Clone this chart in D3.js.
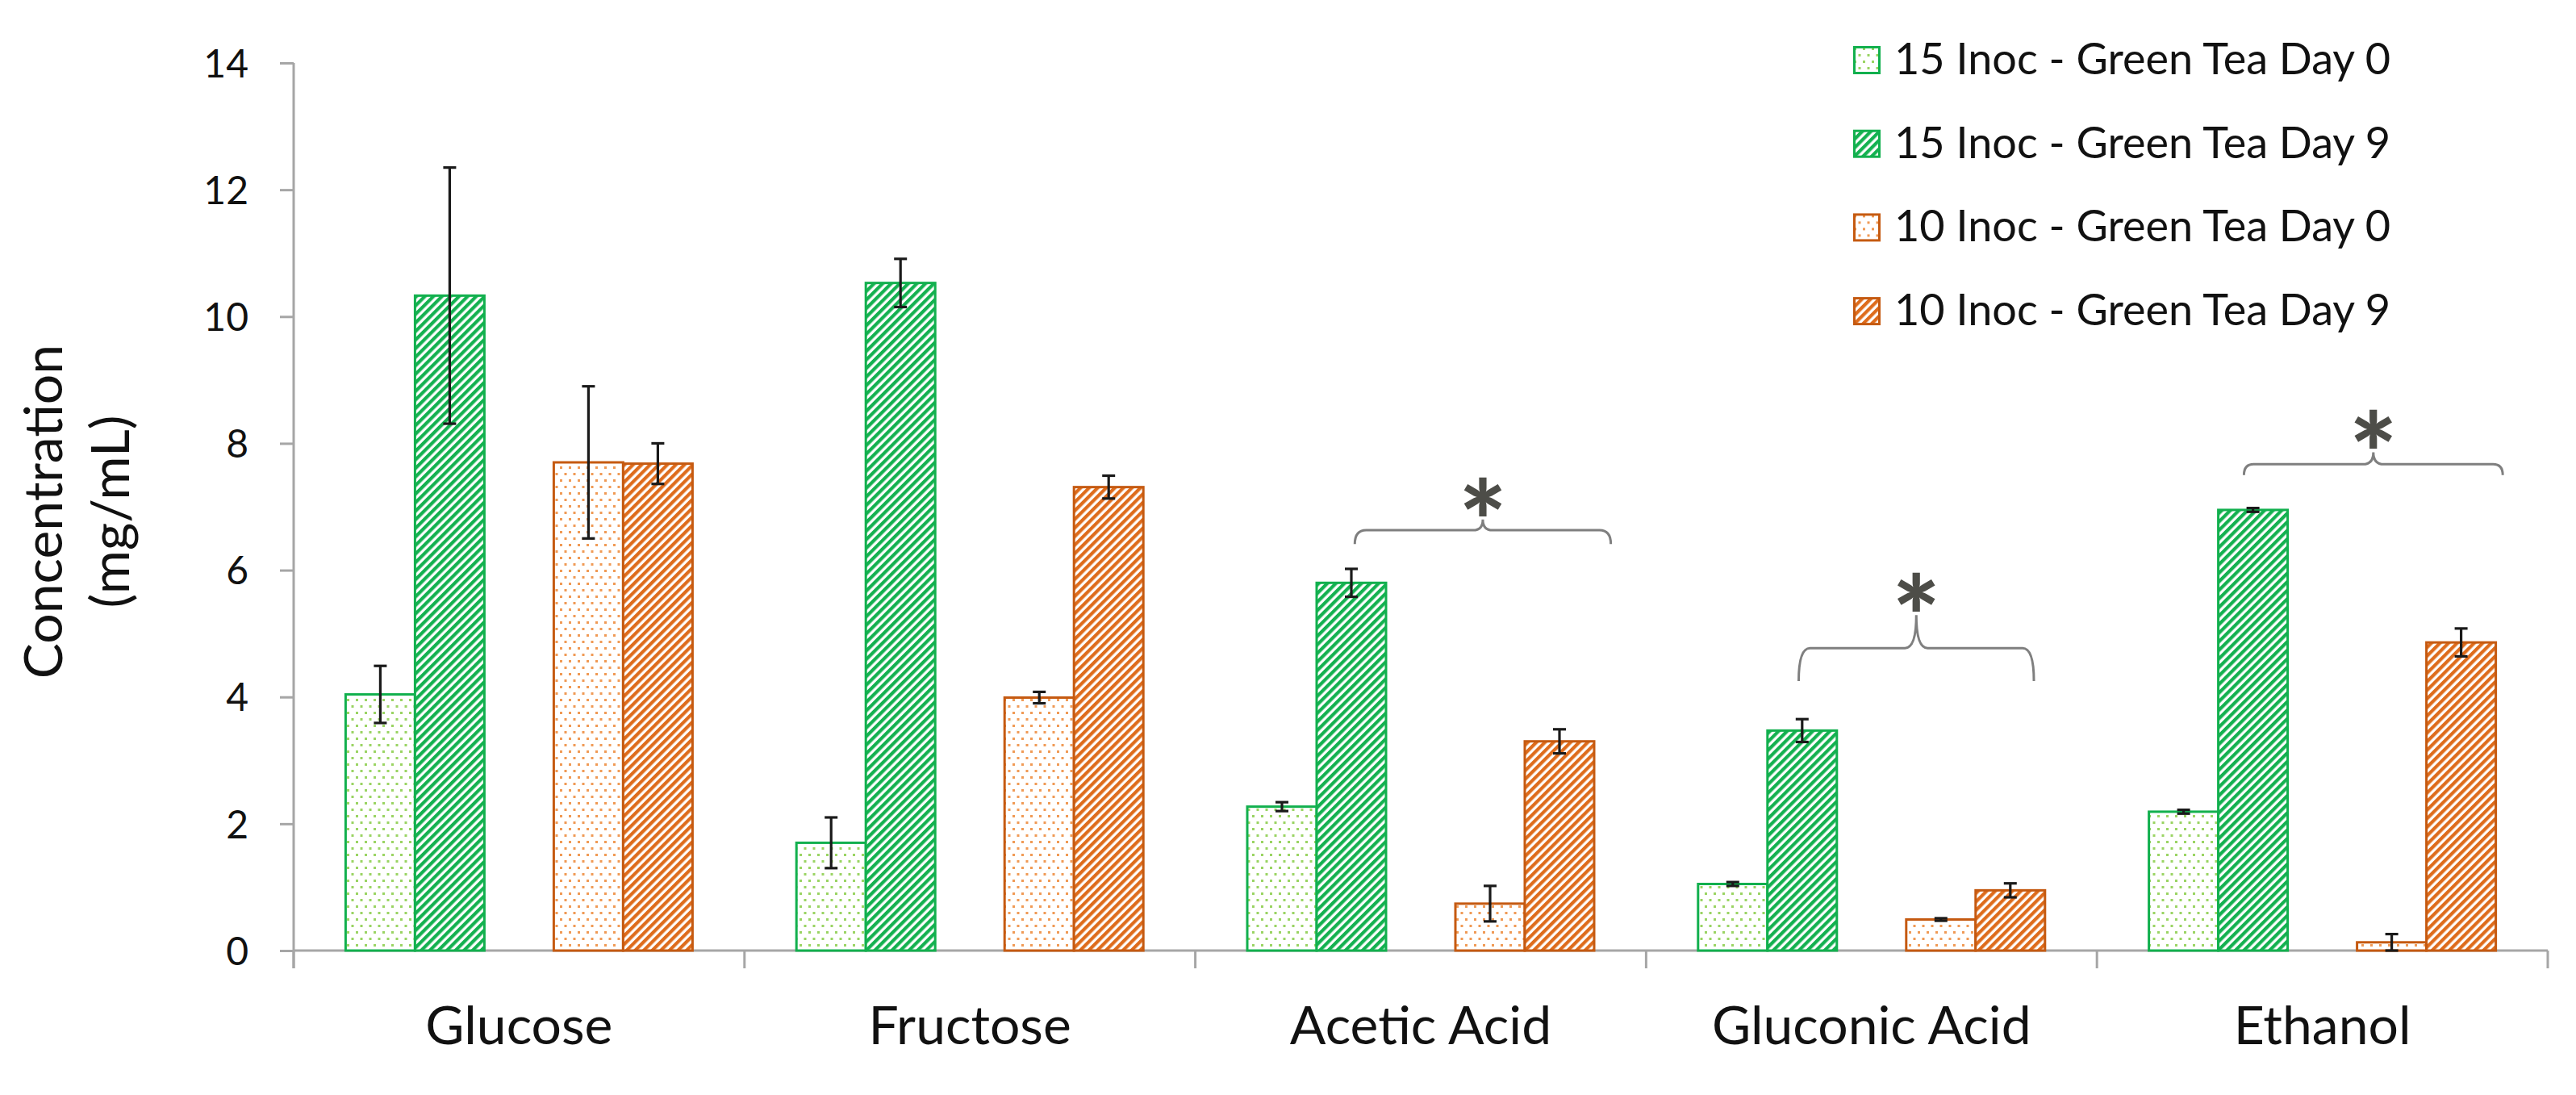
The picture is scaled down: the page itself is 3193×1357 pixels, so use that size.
<!DOCTYPE html>
<html>
<head>
<meta charset="utf-8">
<script src="https://cdn.jsdelivr.net/npm/d3@7"></script>
<style>
  html, body { margin: 0; padding: 0; background: #ffffff; }
  svg { display: block; }
</style>
</head>
<body>
<script>
// ---------------- DATA ----------------
const categories = ["Glucose", "Fructose", "Acetic Acid", "Gluconic Acid", "Ethanol"];
const seriesNames = [
  "15 Inoc - Green Tea Day 0",
  "15 Inoc - Green Tea Day 9",
  "10 Inoc - Green Tea Day 0",
  "10 Inoc - Green Tea Day 9"
];
const inoc15Day0    = [4.04, 1.70, 2.27, 1.05, 2.19];
const inoc15Day0Err = [0.45, 0.40, 0.07, 0.03, 0.03];
const inoc15Day9    = [10.33, 10.53, 5.80, 3.47, 6.95];
const inoc15Day9Err = [2.02, 0.38, 0.22, 0.18, 0.03];
const inoc10Day0    = [7.70, 3.99, 0.74, 0.49, 0.13];
const inoc10Day0Err = [1.20, 0.09, 0.28, 0.02, 0.13];
const inoc10Day9    = [7.68, 7.31, 3.30, 0.95, 4.86];
const inoc10Day9Err = [0.32, 0.18, 0.19, 0.11, 0.22];
const yTicks = [0, 2, 4, 6, 8, 10, 12, 14];
const yTitleLines = ["Concentration", "(mg/mL)"];

// significance annotations (category, bracket level in mg/mL)
const sigCategories = ["Acetic Acid", "Gluconic Acid", "Ethanol"];
const sigLevels     = [6.63, 4.77, 7.67];
const sigLabel      = "*";

// ---------------- LAYOUT / STYLE ----------------
const W = 3193, H = 1357;
const plot = { left: 364, right: 3158, top: 78, bottom: 1178 };
const FONT = "Lato, Carlito, 'Open Sans', sans-serif";
const axisColor = "#a6a6a6";
const seriesKeys = ["s0", "s1", "s2", "s3"];
const slotKeys = ["s0", "s1", "gap", "s2", "s3"];
const seriesFill = ["url(#dotGreen)", "url(#stripeGreen)", "url(#dotOrange)", "url(#stripeOrange)"];
const seriesStroke = ["#12b04e", "#12b04e", "#c55a11", "#c55a11"];
// bracket geometry in slot units / value units (annotation style)
const sigFrom  = [1.55, 1.45, 1.37];
const sigTo    = [5.24, 4.84, 5.10];
const sigArm   = [0.22, 0.52, 0.17];
const sigCusp  = [0.17, 0.52, 0.19];

const svg = d3.select("body").append("svg")
  .attr("width", W).attr("height", H)
  .attr("viewBox", `0 0 ${W} ${H}`);
svg.append("rect").attr("width", W).attr("height", H).attr("fill", "#fff");

// ---------- patterns ----------
const defs = svg.append("defs");
function dotPattern(id, color) {
  const p = defs.append("pattern").attr("id", id)
    .attr("patternUnits", "userSpaceOnUse").attr("width", 11).attr("height", 16);
  p.append("rect").attr("width", 11).attr("height", 16).attr("fill", "#fff");
  p.append("rect").attr("x", 1).attr("y", 2).attr("width", 3).attr("height", 3).attr("fill", color);
  p.append("rect").attr("x", 6.5).attr("y", 10).attr("width", 3).attr("height", 3).attr("fill", color);
}
function stripePattern(id, color) {
  const p = defs.append("pattern").attr("id", id)
    .attr("patternUnits", "userSpaceOnUse").attr("width", 7.5).attr("height", 7.5)
    .attr("patternTransform", "rotate(45)");
  p.append("rect").attr("width", 7.5).attr("height", 7.5).attr("fill", "#fff");
  p.append("rect").attr("x", 0).attr("y", 0).attr("width", 4.2).attr("height", 7.5).attr("fill", color);
}
dotPattern("dotGreen", "#9ad463");
stripePattern("stripeGreen", "#14b150");
dotPattern("dotOrange", "#f09a55");
stripePattern("stripeOrange", "#de6c1c");

// ---------- scales ----------
const x = d3.scaleBand().domain(categories)
  .range([plot.left, plot.right])
  .paddingInner(0.2305).paddingOuter(0.11525);
const xs = d3.scaleBand().domain(slotKeys).range([0, x.bandwidth()]).padding(0);
const y = d3.scaleLinear().domain([0, 14]).range([plot.bottom, plot.top]);

// ---------- axes ----------
const yAxisG = svg.append("g").attr("transform", `translate(${plot.left},0)`)
  .call(d3.axisLeft(y).tickValues(yTicks).tickSize(17).tickPadding(39).tickSizeOuter(0));
yAxisG.select(".domain").remove();
yAxisG.selectAll(".tick line").attr("stroke", axisColor).attr("stroke-width", 3);
yAxisG.selectAll(".tick text")
  .attr("font-family", FONT).attr("font-size", 48).attr("fill", "#111").attr("dy", "0.36em");

// y axis line (extends below baseline to the divider tick length)
svg.append("line")
  .attr("x1", plot.left).attr("x2", plot.left)
  .attr("y1", plot.top).attr("y2", plot.bottom + 22)
  .attr("stroke", axisColor).attr("stroke-width", 3);

const xAxisG = svg.append("g").attr("transform", `translate(0,${plot.bottom})`)
  .call(d3.axisBottom(x).tickSize(0).tickPadding(69));
xAxisG.select(".domain").remove();
xAxisG.selectAll(".tick text")
  .attr("font-family", FONT).attr("font-size", 66).attr("fill", "#111");

svg.append("line")
  .attr("x1", plot.left).attr("x2", plot.right)
  .attr("y1", plot.bottom).attr("y2", plot.bottom)
  .attr("stroke", axisColor).attr("stroke-width", 3);

// category divider ticks
const boundaries = categories.map(c => x(c) - x.step() * x.paddingOuter()).concat([plot.right]);
svg.append("g").selectAll("line").data(boundaries).join("line")
  .attr("x1", d => d).attr("x2", d => d)
  .attr("y1", plot.bottom).attr("y2", plot.bottom + 22)
  .attr("stroke", axisColor).attr("stroke-width", 3);

// y title
svg.append("g").selectAll("text").data(yTitleLines).join("text")
  .attr("transform", (d, i) => `translate(${i === 0 ? 77 : 160},634) rotate(-90)`)
  .attr("text-anchor", "middle")
  .attr("font-family", FONT).attr("font-size", 66).attr("fill", "#111")
  .text(d => d);

// ---------- bars ----------
const seriesValues = [inoc15Day0, inoc15Day9, inoc10Day0, inoc10Day9];
const seriesErrors = [inoc15Day0Err, inoc15Day9Err, inoc10Day0Err, inoc10Day9Err];
const barData = [];
seriesValues.forEach((vals, si) => {
  vals.forEach((v, ci) => {
    barData.push({ cat: categories[ci], s: si, v: v, e: seriesErrors[si][ci] });
  });
});

const barsG = svg.append("g");
barsG.selectAll("rect").data(barData).join("rect")
  .attr("x", d => x(d.cat) + xs(seriesKeys[d.s]))
  .attr("y", d => y(d.v))
  .attr("width", xs.bandwidth())
  .attr("height", d => y(0) - y(d.v))
  .attr("fill", d => seriesFill[d.s])
  .attr("stroke", d => seriesStroke[d.s])
  .attr("stroke-width", 3);

// error bars
const errG = svg.append("g").attr("stroke", "#1a1a1a").attr("stroke-width", 3.2);
const cx = d => x(d.cat) + xs(seriesKeys[d.s]) + xs.bandwidth() / 2;
errG.selectAll("line.v").data(barData).join("line").attr("class", "v")
  .attr("x1", cx).attr("x2", cx)
  .attr("y1", d => y(d.v + d.e)).attr("y2", d => y(d.v - d.e));
errG.selectAll("line.t").data(barData).join("line").attr("class", "t")
  .attr("x1", d => cx(d) - 8).attr("x2", d => cx(d) + 8)
  .attr("y1", d => y(d.v + d.e)).attr("y2", d => y(d.v + d.e));
errG.selectAll("line.b").data(barData).join("line").attr("class", "b")
  .attr("x1", d => cx(d) - 8).attr("x2", d => cx(d) + 8)
  .attr("y1", d => y(d.v - d.e)).attr("y2", d => y(d.v - d.e));

// ---------- significance braces ----------
const sigData = sigCategories.map((c, i) => {
  const base = x(c) + xs(seriesKeys[0]);
  const x1 = base + sigFrom[i] * xs.step();
  const x2 = base + sigTo[i] * xs.step();
  const yl = y(sigLevels[i]);
  const arm = y(sigLevels[i] - sigArm[i]) - yl;
  const cusp = yl - y(sigLevels[i] + sigCusp[i]);
  return { x1, x2, xm: (x1 + x2) / 2, yl, arm, cusp };
});
function bracePath(d) {
  const r = Math.min(14, d.arm * 0.6 + 4);
  const rc = Math.min(14, d.cusp * 0.6 + 4);
  const p = d3.path();
  p.moveTo(d.x1, d.yl + d.arm);
  p.quadraticCurveTo(d.x1, d.yl, d.x1 + r, d.yl);
  p.lineTo(d.xm - rc, d.yl);
  p.quadraticCurveTo(d.xm, d.yl, d.xm, d.yl - d.cusp);
  p.moveTo(d.xm, d.yl - d.cusp);
  p.quadraticCurveTo(d.xm, d.yl, d.xm + rc, d.yl);
  p.lineTo(d.x2 - r, d.yl);
  p.quadraticCurveTo(d.x2, d.yl, d.x2, d.yl + d.arm);
  return p.toString();
}
const sigG = svg.append("g");
sigG.selectAll("path").data(sigData).join("path")
  .attr("d", bracePath)
  .attr("fill", "none").attr("stroke", "#7f7f7f").attr("stroke-width", 3);
const starSize = 140;
sigG.selectAll("text").data(sigData).join("text")
  .attr("x", d => d.xm)
  .attr("y", d => d.yl - d.cusp - 23 + starSize * 0.55)
  .attr("text-anchor", "middle")
  .attr("font-family", FONT).attr("font-weight", "900")
  .attr("font-size", starSize).attr("fill", "#4d4d48")
  .text(sigLabel);

// ---------- legend ----------
const legend = svg.append("g").attr("transform", "translate(2297,57)");
const li = legend.selectAll("g").data(seriesNames).join("g")
  .attr("transform", (d, i) => `translate(0,${i * 103.7})`);
li.append("rect")
  .attr("x", 1.5).attr("y", 1.5).attr("width", 31).attr("height", 32)
  .attr("fill", (d, i) => seriesFill[i])
  .attr("stroke", (d, i) => seriesStroke[i]).attr("stroke-width", 3);
li.append("text")
  .attr("x", 51).attr("y", 35)
  .attr("font-family", FONT).attr("font-size", 54).attr("fill", "#111")
  .text(d => d);
</script>
</body>
</html>
